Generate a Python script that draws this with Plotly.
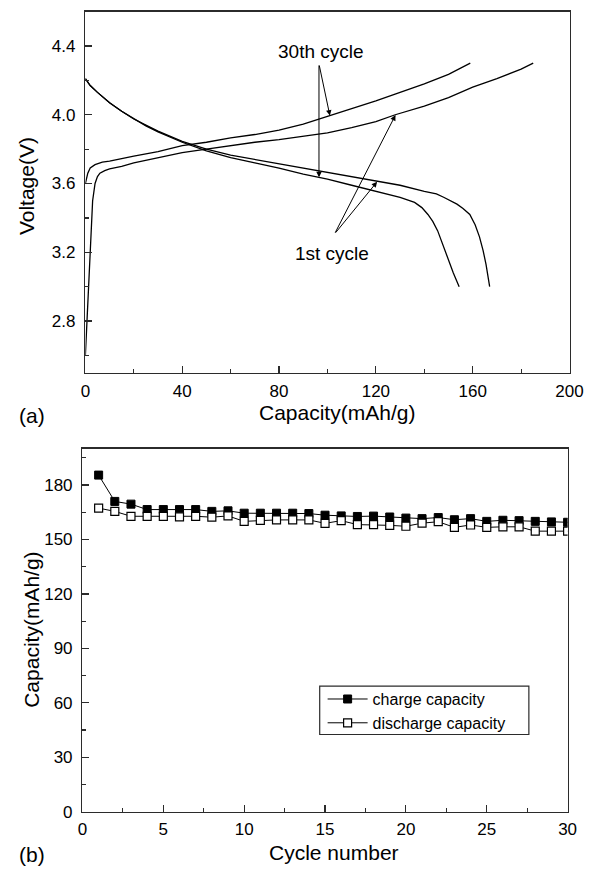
import plotly.graph_objects as go

# ---------------- Panel (a): voltage profiles ----------------
charge_1st_cap = [0, 0.5, 1, 2, 3, 4, 5, 6, 8, 10, 15, 20, 30, 40, 50, 60, 70, 80, 90, 100,
                  110, 120, 128, 140, 150, 160, 170, 180, 185]
charge_1st_v = [2.60, 2.75, 2.92, 3.25, 3.50, 3.60, 3.64, 3.66, 3.675, 3.685, 3.70, 3.72, 3.75,
                3.78, 3.80, 3.82, 3.84, 3.855, 3.875, 3.895, 3.925, 3.96, 4.00, 4.05, 4.10,
                4.16, 4.21, 4.265, 4.30]

charge_30th_cap = [0, 0.5, 1, 2, 4, 7, 10, 15, 20, 30, 40, 50, 60, 70, 80, 90, 100, 110, 120,
                   130, 140, 150, 159]
charge_30th_v = [3.60, 3.63, 3.66, 3.69, 3.71, 3.725, 3.73, 3.745, 3.76, 3.785, 3.82, 3.84,
                 3.865, 3.885, 3.91, 3.945, 3.99, 4.035, 4.08, 4.13, 4.18, 4.235, 4.30]

discharge_1st_cap = [0, 2, 5, 10, 15, 20, 25, 30, 40, 50, 60, 70, 80, 90, 100, 110, 120, 130,
                     140, 145, 148, 151, 153.5, 156, 158.8, 161, 162.8, 164.3, 165.5, 167]
discharge_1st_v = [4.21, 4.17, 4.13, 4.07, 4.02, 3.975, 3.94, 3.905, 3.845, 3.80, 3.765, 3.74,
                   3.715, 3.69, 3.665, 3.64, 3.612, 3.59, 3.555, 3.54, 3.52, 3.50, 3.48, 3.455,
                   3.42, 3.36, 3.29, 3.21, 3.13, 3.00]

discharge_30th_cap = [0, 2, 5, 10, 15, 20, 25, 30, 40, 50, 60, 70, 80, 90, 100, 110, 120, 130,
                      136, 139, 141.5, 143.5, 145.5, 147.5, 149.5, 152, 154.4]
discharge_30th_v = [4.21, 4.17, 4.13, 4.07, 4.02, 3.975, 3.935, 3.90, 3.84, 3.79, 3.75, 3.72,
                    3.69, 3.655, 3.625, 3.59, 3.556, 3.52, 3.49, 3.46, 3.42, 3.38, 3.326, 3.25,
                    3.17, 3.08, 3.00]

# ---------------- Panel (b): cycling capacity ----------------
cycle_number = list(range(1, 31))
charge_capacity = [185.5, 171.0, 169.5, 166.5, 166.5, 166.5, 166.5, 165.5, 165.8, 164.5,
                   164.5, 164.5, 164.5, 164.3, 163.4, 163.0, 162.7, 162.9, 162.4, 161.8,
                   161.5, 162.1, 160.9, 161.5, 160.0, 160.6, 160.4, 160.0, 159.7, 159.5]
discharge_capacity = [167.3, 165.5, 162.8, 162.8, 162.8, 162.5, 162.8, 162.3, 163.0, 160.0,
                      160.5, 160.8, 160.8, 160.8, 158.9, 160.4, 158.2, 158.2, 157.8, 157.3,
                      159.0, 159.8, 156.7, 158.0, 156.7, 157.0, 157.0, 154.6, 154.6, 154.6]

FONT = "Liberation Sans, Arial, Helvetica, sans-serif"
AXC = "#2b2b2b"
W, H = 600, 873

fig = go.Figure()

curve_style = dict(color="black", width=1.3)
for cap, v in [(charge_1st_cap, charge_1st_v), (charge_30th_cap, charge_30th_v),
               (discharge_1st_cap, discharge_1st_v), (discharge_30th_cap, discharge_30th_v)]:
    fig.add_trace(go.Scatter(x=cap, y=v, mode="lines", line=curve_style,
                             showlegend=False, xaxis="x", yaxis="y", hoverinfo="skip"))

fig.add_trace(go.Scatter(x=cycle_number, y=charge_capacity, mode="lines+markers",
                         name="charge capacity", xaxis="x2", yaxis="y2",
                         line=dict(color="black", width=1),
                         marker=dict(symbol="square", size=8, color="black",
                                     line=dict(color="black", width=1))))
fig.add_trace(go.Scatter(x=cycle_number, y=discharge_capacity, mode="lines+markers",
                         name="discharge capacity", xaxis="x2", yaxis="y2",
                         line=dict(color="black", width=1),
                         marker=dict(symbol="square", size=8, color="white",
                                     line=dict(color="black", width=1.2))))

def px_x(p):
    return p / W

def px_y(p):
    return 1 - p / H

tick_font = dict(family=FONT, size=17, color="black")
common_axis = dict(showline=True, linecolor=AXC, linewidth=1.5, mirror=True,
                   ticks="inside", ticklen=7, tickwidth=1.2, tickcolor=AXC,
                   showgrid=False, zeroline=False, tickfont=tick_font, fixedrange=True)

fig.update_layout(
    width=W, height=H,
    margin=dict(l=0, r=0, t=0, b=0),
    paper_bgcolor="white", plot_bgcolor="white",
    font=dict(family=FONT, color="black"),
    hovermode=False,
    xaxis=dict(domain=[px_x(83), px_x(583)], range=[0, 200], tickvals=[0, 40, 80, 120, 160, 200],
               minor=dict(ticks="inside", ticklen=4, tickcolor=AXC, dtick=20, tick0=0),
               anchor="y", ticklabelstandoff=2, **common_axis),
    yaxis=dict(domain=[px_y(377), px_y(11.7)], range=[2.5, 4.6], tickvals=[2.8, 3.2, 3.6, 4.0, 4.4],
               ticktext=["2.8", "3.2", "3.6", "4.0", "4.4"],
               minor=dict(ticks="inside", ticklen=4, tickcolor=AXC, dtick=0.2, tick0=2.6),
               anchor="x", ticklabelstandoff=5, **common_axis),
    xaxis2=dict(domain=[px_x(80), px_x(581)], range=[0, 30], tickvals=[0, 5, 10, 15, 20, 25, 30],
                minor=dict(ticks="inside", ticklen=4, tickcolor=AXC, dtick=2.5, tick0=0),
                anchor="y2", ticklabelstandoff=2, **common_axis),
    yaxis2=dict(domain=[px_y(821), px_y(454)], range=[0, 200], tickvals=[0, 30, 60, 90, 120, 150, 180],
                minor=dict(ticks="inside", ticklen=4, tickcolor=AXC, dtick=15, tick0=0),
                anchor="x2", ticklabelstandoff=5, **common_axis),
    legend=dict(x=px_x(328), y=px_y(690), xanchor="left", yanchor="top",
                bgcolor="rgba(0,0,0,0)", borderwidth=0,
                font=dict(family=FONT, size=16, color="black"),
                tracegroupgap=0, itemwidth=40),
)

# legend frame
fig.add_shape(type="rect", xref="paper", yref="paper",
              x0=px_x(325), x1=px_x(541), y0=px_y(743), y1=px_y(694),
              line=dict(color=AXC, width=1.2), fillcolor="white", layer="above")

title_font = dict(family=FONT, size=21, color="black")
ann_font = dict(family=FONT, size=19, color="black")
paper_txt = dict(xref="paper", yref="paper", showarrow=False, xanchor="center", yanchor="middle")
annotations = [
    dict(text="(a)", x=px_x(28), y=px_y(420), font=title_font, **paper_txt),
    dict(text="Capacity(mAh/g)", x=px_x(343), y=px_y(417), font=title_font, **paper_txt),
    dict(text="Voltage(V)", x=px_x(23), y=px_y(188), textangle=-90, font=title_font, **paper_txt),
    dict(text="(b)", x=px_x(28), y=px_y(864), font=title_font, **paper_txt),
    dict(text="Cycle number", x=px_x(340), y=px_y(862), font=title_font, **paper_txt),
    dict(text="Capacity(mAh/g)", x=px_x(28), y=px_y(637), textangle=-90, font=title_font, **paper_txt),
    dict(text="30th cycle", x=97.2, y=4.367, xref="x", yref="y", showarrow=False,
         xanchor="center", yanchor="middle", font=ann_font),
    dict(text="1st cycle", x=101.7, y=3.195, xref="x", yref="y", showarrow=False,
         xanchor="center", yanchor="middle", font=ann_font),
]
arrow_style = dict(xref="x", yref="y", axref="x", ayref="y", text="", showarrow=True,
                   arrowhead=2, arrowsize=1.1, arrowwidth=1, arrowcolor="black", standoff=0)
arrows = [
    ((96.5, 4.295), (101.0, 3.995)),
    ((96.5, 4.295), (96.5, 3.636)),
    ((102.9, 3.306), (128.1, 3.998)),
    ((102.9, 3.306), (120.5, 3.610)),
]
for (tx, ty), (hx, hy) in arrows:
    annotations.append(dict(x=hx, y=hy, ax=tx, ay=ty, **arrow_style))

fig.update_layout(annotations=annotations)

fig.write_html("out.html",
               config={"displayModeBar": False, "staticPlot": True},
               post_script="document.body.style.margin='0';document.body.style.overflow='hidden';")
